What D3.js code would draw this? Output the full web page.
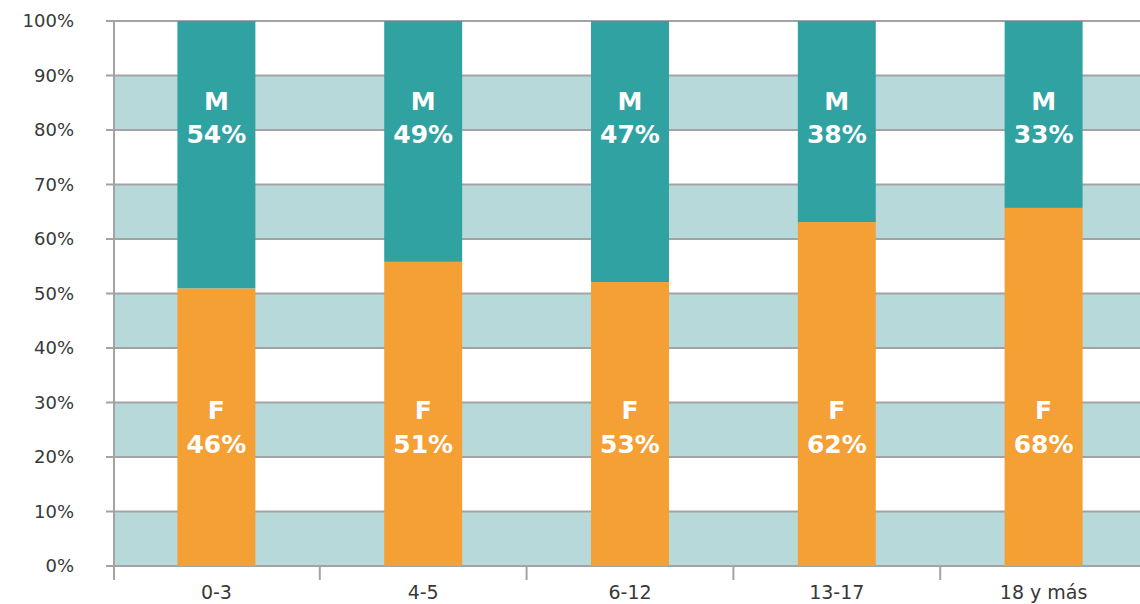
<!DOCTYPE html>
<html><head><meta charset="utf-8">
<script src="https://cdn.jsdelivr.net/npm/d3@7"></script>
<style>body{margin:0;background:#fff}svg{display:block}</style>
</head><body>
<svg id="c" width="1140" height="604"></svg>
<script>
const categories = ["0-3","4-5","6-12","13-17","18 y más"];
const fShare = [50.9, 55.8, 52.1, 63.1, 65.7];   // height of F segment as drawn
const fLabels = [46, 51, 53, 62, 68];
const mLabels = [54, 49, 47, 38, 33];
const yTicks = [0,10,20,30,40,50,60,70,80,90,100];

const svg = d3.select("#c");
const x0 = 113, x1 = 1147, yTop = 21, yBot = 566;
const x = d3.scaleBand().domain(categories).range([x0, x1]).padding(0);
const y = d3.scaleLinear().domain([0,100]).range([yBot, yTop]);
const barW = x.bandwidth()*0.377;
const font = "'DejaVu Sans', 'Noto Sans', sans-serif";

// bands
svg.append("g").selectAll("rect").data(yTicks.filter(t => t < 100 && (t/10)%2===0)).join("rect")
  .attr("x", x0).attr("width", 1140-x0)
  .attr("y", d => y(d+10)).attr("height", d => y(d)-y(d+10))
  .attr("fill", "#b8d9d9");

// gridlines
svg.append("g").selectAll("line").data(yTicks).join("line")
  .attr("x1", 106).attr("x2", 1140)
  .attr("y1", d => y(d)).attr("y2", d => y(d))
  .attr("stroke", "#a3a3a3").attr("stroke-width", 2);

// y axis line
svg.append("line").attr("x1", 114).attr("x2", 114).attr("y1", yTop).attr("y2", 580)
  .attr("stroke", "#a3a3a3").attr("stroke-width", 2);

// x ticks
svg.append("g").selectAll("line").data(categories.slice(1)).join("line")
  .attr("x1", d => x(d)).attr("x2", d => x(d))
  .attr("y1", yBot).attr("y2", 580)
  .attr("stroke", "#a3a3a3").attr("stroke-width", 2);

// y labels
svg.append("g").selectAll("text").data(yTicks).join("text")
  .attr("x", 74).attr("y", d => y(d)).attr("dy", "0.36em")
  .attr("text-anchor", "end").attr("font-family", font).attr("font-size", 18)
  .attr("fill", "#383838").text(d => d + "%");

// x labels
svg.append("g").selectAll("text").data(categories).join("text")
  .attr("x", d => x(d) + x.bandwidth()/2).attr("y", 599)
  .attr("text-anchor", "middle").attr("font-family", font).attr("font-size", 19)
  .attr("fill", "#383838").text(d => d);

// bars
const g = svg.append("g");
categories.forEach((c, i) => {
  const cx = x(c) + x.bandwidth()/2;
  g.append("rect").attr("x", cx - barW/2).attr("width", barW)
    .attr("y", y(100)).attr("height", y(fShare[i]) - y(100)).attr("fill", "#31a2a2");
  g.append("rect").attr("x", cx - barW/2).attr("width", barW)
    .attr("y", y(fShare[i])).attr("height", y(0) - y(fShare[i])).attr("fill", "#f4a034");
  const lbl = (txt, yy) => g.append("text").attr("x", cx).attr("y", yy).attr("dy", "0.36em")
    .attr("text-anchor", "middle").attr("font-family", font).attr("font-weight", 700)
    .attr("font-size", 25).attr("fill", "#fff").text(txt);
  lbl("M", y(85.3));
  lbl(mLabels[i] + "%", y(79.3));
  lbl("F", y(28.6));
  lbl(fLabels[i] + "%", y(22.4));
});
</script>
</body></html>
